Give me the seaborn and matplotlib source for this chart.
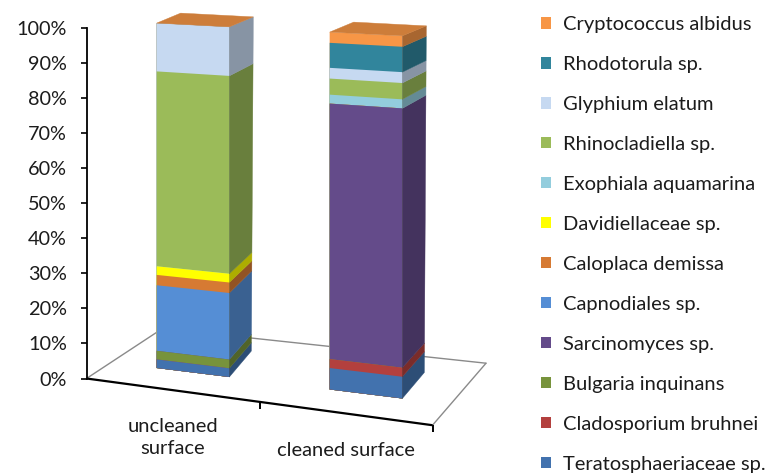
import numpy as np
import pandas as pd
import matplotlib
matplotlib.use("Agg")
import matplotlib.pyplot as plt
import seaborn as sns
from matplotlib.transforms import Transform, IdentityTransform
from matplotlib.patches import Polygon, Patch
from matplotlib.lines import Line2D
from matplotlib.colors import to_rgb

# ---- data -------------------------------------------------------------
surfaces = ["uncleaned\nsurface", "cleaned surface"]

# stacking order, bottom -> top
species = [
    "Teratosphaeriaceae sp.", "Cladosporium bruhnei", "Bulgaria inquinans",
    "Sarcinomyces sp.", "Capnodiales sp.", "Caloplaca demissa",
    "Davidiellaceae sp.", "Exophiala aquamarina", "Rhinocladiella sp.",
    "Glyphium elatum", "Rhodotorula sp.", "Cryptococcus albidus",
]
uncleaned = [2.5, 0, 2.5, 0, 19, 3, 2.5, 0, 56.5, 14, 0, 0]
cleaned = [6, 2.5, 0, 71.5, 0, 0, 0, 2.5, 4.5, 3, 7, 3]

colors = [
    "#4272AE", "#B3403E", "#77933C", "#644B8A", "#558ED5", "#D67A33",
    "#FFFF00", "#93CDDD", "#9BBB59", "#C6D9F1", "#31859C", "#F79646",
]
y_ticks = list(range(0, 101, 10))

# ---- style ------------------------------------------------------------
sns.set_theme(style="white")
plt.rcParams["font.family"] = ["Lato", "DejaVu Sans"]
TEXT = "#1c1c1c"

W, H = 771, 473
fig = plt.figure(figsize=(W / 100, H / 100), dpi=100)
ax = fig.add_axes([86.5 / W, (H - 378.5) / H, 346 / W, 351 / H])

df = pd.DataFrame({
    "surface": np.repeat(surfaces, len(species)),
    "species": species * 2,
    "share": uncleaned + cleaned,
})
df["top"] = df.groupby("surface", sort=False)["share"].cumsum()
df["bottom"] = df["top"] - df["share"]


class Recede(Transform):
    """Display-space warp giving the flat chart a receding floor."""
    input_dims = output_dims = 2
    is_separable = False
    has_inverse = False

    def __init__(self, bbox, k_base, k_top, lift_base, lift_top, shift_x=0.0):
        super().__init__()
        self.bbox = bbox
        self.k_base, self.k_top = k_base, k_top
        self.lift_base, self.lift_top = lift_base, lift_top
        self.shift_x = shift_x

    def transform_non_affine(self, values):
        v = np.asarray(values, dtype=float).reshape(-1, 2)
        x0, y0, h = self.bbox.x0, self.bbox.y0, self.bbox.height
        f = (v[:, 1] - y0) / h
        k = self.k_base + (self.k_top - self.k_base) * f
        lift = self.lift_base + (self.lift_top - self.lift_base) * f
        out = np.empty_like(v)
        out[:, 0] = v[:, 0] + self.shift_x
        out[:, 1] = v[:, 1] - k * (v[:, 0] - x0) + lift
        return out


# stacked front faces: cumulative bars drawn from the tallest down
bar_w = 0.42
for sp, col in reversed(list(zip(species, colors))):
    sub = df[df["species"] == sp]
    sns.barplot(data=sub, x="surface", y="top", order=surfaces, color=col,
                saturation=1, width=bar_w, errorbar=None, ax=ax,
                linewidth=0, edgecolor="none")

ax.set_xlim(-0.5, 1.5)
ax.set_ylim(0, 100)

bar_tr = ax.transData + Recede(ax.bbox, 0.124, 0.052, 16.7, 7.0, shift_x=20)
floor_tr = ax.transData + Recede(ax.bbox, 0.135, 0.135, 0.0, 0.0)

for p in ax.patches:
    p.set_transform(bar_tr)
    p.set_clip_on(False)
    p.set_zorder(2)


def shade(c, f):
    r, g, b = to_rgb(c)
    return (r * f, g * f, b * f)


depth_base = np.array([22.0, 26.0])
depth_top = np.array([24.0, 10.0])


def depth(v):
    return depth_base + (depth_top - depth_base) * v / 100.0


# side and top faces of each column
for i, surf in enumerate(surfaces):
    sub = df[df["surface"] == surf].reset_index(drop=True)
    xl, xr = i - bar_w / 2, i + bar_w / 2
    for j, row in sub.iterrows():
        if row["share"] <= 0:
            continue
        fb, ft = bar_tr.transform(np.array([[xr, row["bottom"]], [xr, row["top"]]]))
        verts = [fb, ft, ft + depth(row["top"]), fb + depth(row["bottom"])]
        sc = shade(colors[j], 0.68)
        ax.add_patch(Polygon(verts, closed=True, transform=IdentityTransform(),
                             facecolor=sc, edgecolor=sc, linewidth=0.3,
                             clip_on=False, zorder=2))
    total = sub["top"].iloc[-1]
    tl, tr = bar_tr.transform(np.array([[xl, total], [xr, total]]))
    d = depth(total)
    tc = shade(colors[-1], 0.83)
    ax.add_patch(Polygon([tl, tr, tr + d, tl + d], closed=True,
                         transform=IdentityTransform(), facecolor=tc,
                         edgecolor=tc, linewidth=0.3, clip_on=False, zorder=3))

# floor outline
ax.plot([-0.5, 1.5], [0, 0], transform=floor_tr, color="black", lw=1.6,
        clip_on=False, zorder=4, solid_capstyle="butt")
ax.plot([0.5, 1.5], [0, 0], transform=floor_tr, ls="none", marker=3, ms=5,
        mew=1.4, color="black", clip_on=False, zorder=4)
fl, fr = floor_tr.transform(np.array([[-0.5, 0], [1.5, 0]]))
bl, br = fl + np.array([76.0, 50.0]), fr + np.array([53.5, 62.0])
for a, b in [(fl, bl), (bl, br), (br, fr)]:
    ax.add_line(Line2D([a[0], b[0]], [a[1], b[1]], transform=IdentityTransform(),
                       color="#8a8a8a", lw=1.0, clip_on=False, zorder=0.5))

# category labels sit under the receding front edge
for i, surf in enumerate(surfaces):
    ax.annotate(surf, xy=(i, 0), xycoords=floor_tr, xytext=(0, -28),
                textcoords="offset pixels", ha="center", va="top",
                multialignment="center", fontsize=14.5, color=TEXT,
                linespacing=1.35, annotation_clip=False)

# axes
for side in ["top", "right", "bottom"]:
    ax.spines[side].set_visible(False)
ax.spines["left"].set_color("black")
ax.spines["left"].set_linewidth(1.3)
ax.set_xticks([])
ax.set_yticks(y_ticks)
ax.set_yticklabels([f"{t}%" for t in y_ticks])
ax.tick_params(axis="y", direction="out", length=4, width=1.2, pad=10,
               labelsize=14.3, labelcolor=TEXT, color="black", left=True)
ax.set_xlabel("")
ax.set_ylabel("")
ax.grid(False)

# legend, top series first
handles = [Patch(facecolor=c, edgecolor="none", label=s)
           for s, c in reversed(list(zip(species, colors)))]
fig.legend(handles=handles, loc="upper left", bbox_to_anchor=(541 / W, 1 - 16 / H),
           frameon=False, fontsize=14.5, handlelength=0.5, handleheight=0.5,
           handletextpad=0.6, labelspacing=1.14, borderpad=0, borderaxespad=0,
           labelcolor=TEXT)

fig.savefig("out.png", dpi=100)
